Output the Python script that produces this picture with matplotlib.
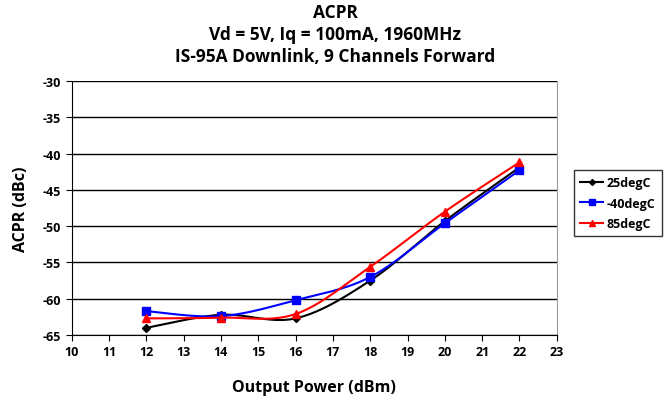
import numpy as np
import matplotlib
matplotlib.use("Agg")
import matplotlib.pyplot as plt

plt.rcParams['font.family'] = ['Open Sans', 'DejaVu Sans']
plt.rcParams['font.weight'] = 'bold'
plt.rcParams['axes.unicode_minus'] = False

# data
power = [12, 14, 16, 18, 20, 22]
acpr_25 = [-64.0, -62.2, -62.7, -57.5, -49.3, -41.9]
acpr_m40 = [-61.7, -62.4, -60.2, -57.0, -49.6, -42.3]
acpr_85 = [-62.7, -62.6, -62.1, -55.6, -48.0, -41.2]


def smooth(x, y, n=30):
    # Catmull-Rom curve through the points (like Excel's smoothed line)
    x = np.asarray(x, float)
    y = np.asarray(y, float)
    px = np.concatenate([[x[0]], x, [x[-1]]])
    py = np.concatenate([[y[0]], y, [y[-1]]])
    xs, ys = [], []
    t = np.linspace(0, 1, n)
    for i in range(1, len(px) - 2):
        for p, out in ((px, xs), (py, ys)):
            p0, p1, p2, p3 = p[i - 1], p[i], p[i + 1], p[i + 2]
            out.append(0.5 * (2 * p1 + (-p0 + p2) * t
                              + (2 * p0 - 5 * p1 + 4 * p2 - p3) * t ** 2
                              + (-p0 + 3 * p1 - 3 * p2 + p3) * t ** 3))
    return np.concatenate(xs), np.concatenate(ys)


fig = plt.figure(figsize=(6.7, 4.02), dpi=100)
ax = fig.add_axes([0.107, 0.164, 0.724, 0.632])

series = [
    ("25degC", acpr_25, "black", "D", 4),
    ("-40degC", acpr_m40, "blue", "s", 5.5),
    ("85degC", acpr_85, "red", "^", 6),
]
handles = []
for label, vals, col, mk, ms in series:
    sx, sy = smooth(power, vals)
    ax.plot(sx, sy, color=col, lw=1.5)
    ax.plot(power, vals, ls="none", marker=mk, color=col, ms=ms)
    h, = ax.plot([], [], color=col, lw=1.5, marker=mk, ms=ms - 1, label=label)
    handles.append(h)

ax.set_xlim(10, 23)
ax.set_ylim(-65, -30)
ax.set_xticks(range(10, 24))
ax.set_yticks(range(-65, -29, 5))
ax.yaxis.grid(True, color="black", lw=1)
ax.set_axisbelow(True)
ax.tick_params(labelsize=9, length=4, direction="out")
ax.spines["top"].set_visible(False)
ax.spines["right"].set_color("#999999")

ax.set_xlabel("Output Power (dBm)", fontsize=11.5, fontweight="bold", labelpad=15)
ax.set_ylabel("ACPR (dBc)", fontsize=11.5, fontweight="bold", labelpad=10)
fig.suptitle("ACPR\nVd = 5V, Iq = 100mA, 1960MHz\nIS-95A Downlink, 9 Channels Forward",
             fontsize=12.5, fontweight="bold", y=0.99, linespacing=1.3)

leg = fig.legend(handles=handles, loc="upper left", bbox_to_anchor=(0.857, 0.575),
                 frameon=True, fancybox=False, edgecolor="black", fontsize=9,
                 handlelength=1.8, handletextpad=0.3, borderpad=0.5,
                 labelspacing=0.6, borderaxespad=0)
leg.get_frame().set_linewidth(1)

fig.savefig("out.png", dpi=100)
